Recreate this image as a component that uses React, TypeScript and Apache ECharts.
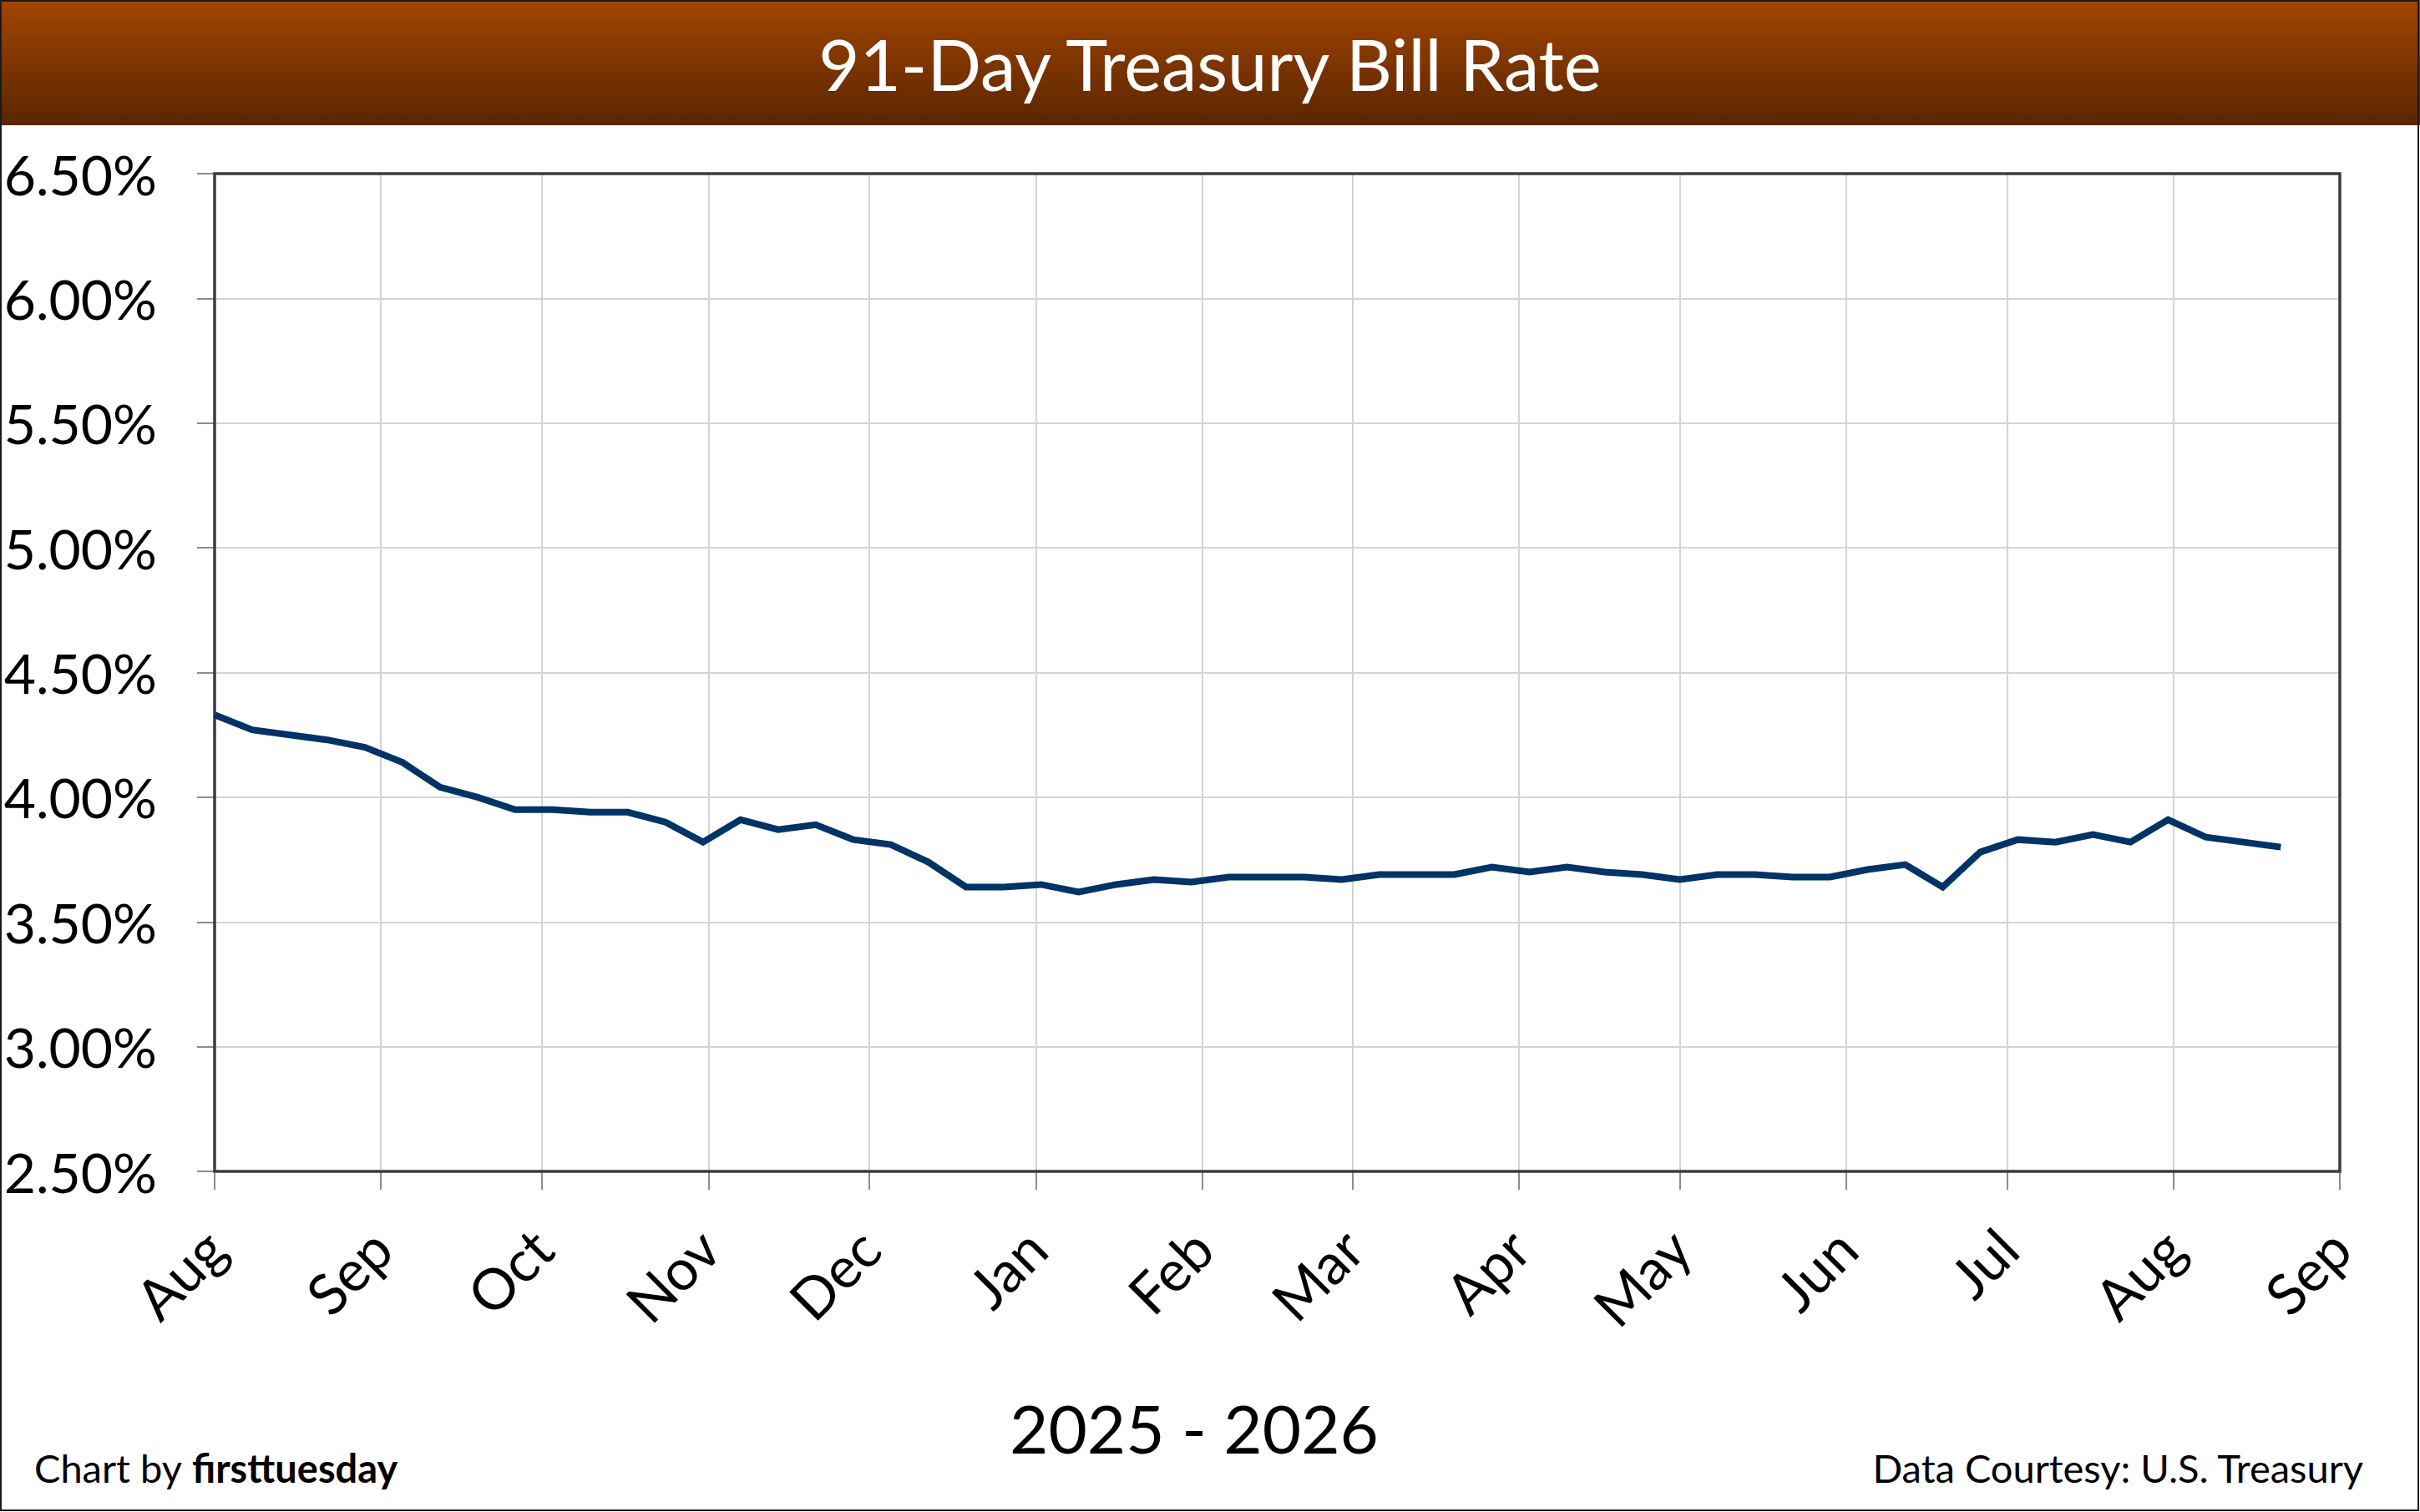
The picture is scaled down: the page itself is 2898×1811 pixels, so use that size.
import React, { useEffect, useRef } from "react";
import * as echarts from "echarts";

const TITLE = "91-Day Treasury Bill Rate";
const X_TITLE = "2025 - 2026";
const CREDIT_LEFT = "Chart by ";
const CREDIT_BRAND = "firsttuesday";
const CREDIT_RIGHT = "Data Courtesy: U.S. Treasury";

const MONTH_NAMES = ["Jan", "Feb", "Mar", "Apr", "May", "Jun", "Jul", "Aug", "Sep", "Oct", "Nov", "Dec"];

const X_START = "2025-08-01";
const X_END = "2026-09-01";

const Y_MIN = 2.5;
const Y_MAX = 6.5;
const Y_STEP = 0.5;

const DATES = [
  "2025-08-01", "2025-08-08", "2025-08-15", "2025-08-22", "2025-08-29",
  "2025-09-05", "2025-09-12", "2025-09-19", "2025-09-26",
  "2025-10-03", "2025-10-10", "2025-10-17", "2025-10-24", "2025-10-31",
  "2025-11-07", "2025-11-14", "2025-11-21", "2025-11-28",
  "2025-12-05", "2025-12-12", "2025-12-19", "2025-12-26",
  "2026-01-02", "2026-01-09", "2026-01-16", "2026-01-23", "2026-01-30",
  "2026-02-06", "2026-02-13", "2026-02-20", "2026-02-27",
  "2026-03-06", "2026-03-13", "2026-03-20", "2026-03-27",
  "2026-04-03", "2026-04-10", "2026-04-17", "2026-04-24",
  "2026-05-01", "2026-05-08", "2026-05-15", "2026-05-22", "2026-05-29",
  "2026-06-05", "2026-06-12", "2026-06-19", "2026-06-26",
  "2026-07-03", "2026-07-10", "2026-07-17", "2026-07-24", "2026-07-31",
  "2026-08-07", "2026-08-14", "2026-08-21",
];

const RATES = [
  4.33, 4.27, 4.25, 4.23, 4.20,
  4.14, 4.04, 4.00, 3.95,
  3.95, 3.94, 3.94, 3.90, 3.82,
  3.91, 3.87, 3.89, 3.83,
  3.81, 3.74, 3.64, 3.64,
  3.65, 3.62, 3.65, 3.67, 3.66,
  3.68, 3.68, 3.68, 3.67,
  3.69, 3.69, 3.69, 3.72,
  3.70, 3.72, 3.70, 3.69,
  3.67, 3.69, 3.69, 3.68, 3.68,
  3.71, 3.73, 3.64, 3.78,
  3.83, 3.82, 3.85, 3.82, 3.91,
  3.84, 3.82, 3.80,
];

const FONT = "Lato, 'Noto Sans', 'DejaVu Sans', sans-serif";

function toTime(s: string): number {
  const [y, m, d] = s.split("-").map(Number);
  return new Date(y, m - 1, d).getTime();
}

export default function App() {
  const ref = useRef<HTMLDivElement>(null);

  useEffect(() => {
    if (!ref.current) return;
    const chart = echarts.init(ref.current, undefined, { renderer: "svg" });
    const W = 2898;
    const H = 1811;
    const DAY = 86400000;
    const G = { left: 257, top: 208, right: 96, bottom: 408 };

    const option = {
      animation: false,
      backgroundColor: "#ffffff",
      grid: {
        left: G.left,
        top: G.top,
        right: G.right,
        bottom: G.bottom,
        show: false,
      },
      xAxis: {
        type: "time",
        min: toTime(X_START),
        max: toTime(X_END),
        minInterval: 28 * DAY,
        maxInterval: 31 * DAY,
        splitNumber: 13,
        axisLine: { show: false },
        axisTick: {
          show: true,
          inside: false,
          length: 22,
          lineStyle: { color: "#8c8c8c", width: 2 },
        },
        splitLine: { show: true, lineStyle: { color: "#d4d4d4", width: 2 } },
        minorTick: { show: false },
        axisLabel: {
          show: true,
          rotate: 45,
          margin: 80,
          color: "#000000",
          fontFamily: FONT,
          fontSize: 68,
          showMinLabel: true,
          showMaxLabel: true,
          hideOverlap: false,
          formatter: (val: number) => MONTH_NAMES[new Date(val).getMonth()],
        },
      },
      yAxis: {
        type: "value",
        min: Y_MIN,
        max: Y_MAX,
        interval: Y_STEP,
        axisLine: { show: false },
        axisTick: {
          show: true,
          inside: false,
          length: 21,
          lineStyle: { color: "#8c8c8c", width: 2 },
        },
        splitLine: { show: true, lineStyle: { color: "#d4d4d4", width: 2 } },
        axisLabel: {
          margin: 69,
          color: "#000000",
          fontFamily: FONT,
          fontSize: 66,
          formatter: (v: number) => v.toFixed(2) + "%",
        },
      },
      series: [
        {
          type: "line",
          data: DATES.map((d, i) => [toTime(d), RATES[i]]),
          showSymbol: false,
          symbol: "none",
          lineStyle: { color: "#003366", width: 8, join: "miter", cap: "butt" },
          z: 20,
        },
      ],
      graphic: [
        {
          type: "rect",
          shape: { x: 0, y: 0, width: W, height: 150 },
          style: {
            fill: new echarts.graphic.LinearGradient(0, 0, 0, 1, [
              { offset: 0, color: "#a24500" },
              { offset: 1, color: "#5a2500" },
            ]),
          },
          z: 1,
        },
        {
          type: "text",
          x: 1449,
          y: 76,
          style: {
            text: TITLE,
            fill: "#ffffff",
            fontFamily: FONT,
            fontSize: 85,
            align: "center",
            verticalAlign: "middle",
          },
          z: 2,
        },
        {
          type: "rect",
          shape: { x: G.left, y: G.top, width: W - G.left - G.right, height: H - G.top - G.bottom },
          style: { fill: "none", stroke: "#3c3c3c", lineWidth: 3.5 },
          z: 10,
        },
        {
          type: "text",
          x: 1430,
          y: 1710,
          style: {
            text: X_TITLE,
            fill: "#000000",
            fontFamily: FONT,
            fontSize: 80,
            align: "center",
            verticalAlign: "middle",
          },
          z: 2,
        },
        {
          type: "text",
          x: 41,
          y: 1758,
          style: {
            text: "{n|" + CREDIT_LEFT + "}{b|" + CREDIT_BRAND + "}",
            verticalAlign: "middle",
            align: "left",
            rich: {
              n: { fontFamily: FONT, fontSize: 47, fill: "#000000", fontWeight: "normal" },
              b: { fontFamily: FONT, fontSize: 47, fill: "#000000", fontWeight: "bold" },
            },
          },
          z: 2,
        },
        {
          type: "text",
          x: 2830,
          y: 1758,
          style: {
            text: CREDIT_RIGHT,
            fill: "#000000",
            fontFamily: FONT,
            fontSize: 47,
            align: "right",
            verticalAlign: "middle",
          },
          z: 2,
        },
        {
          type: "rect",
          shape: { x: 1, y: 1, width: W - 3, height: H - 3 },
          style: { fill: "none", stroke: "#1a1a1a", lineWidth: 2 },
          z: 30,
        },
      ],
    };

    chart.setOption(option as any);
    return () => {
      chart.dispose();
    };
  }, []);

  return (
    <div
      ref={ref}
      style={{ position: "fixed", left: 0, top: 0, width: 2898, height: 1811, background: "#ffffff" }}
    />
  );
}
